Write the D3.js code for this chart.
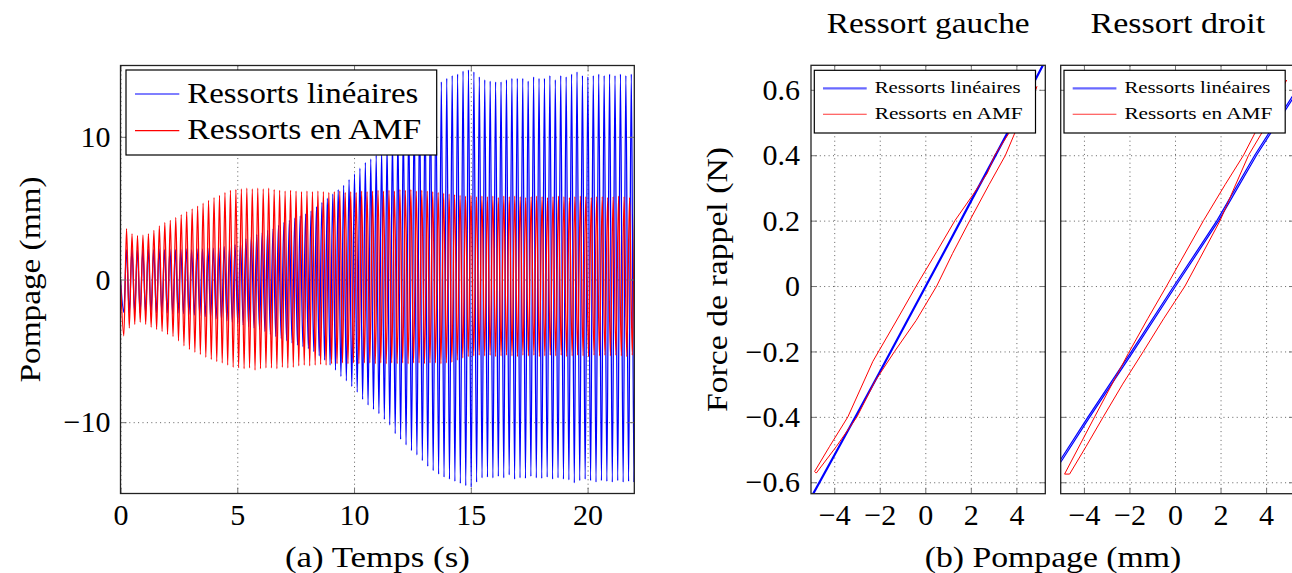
<!DOCTYPE html>
<html><head><meta charset="utf-8">
<script src="https://cdn.jsdelivr.net/npm/d3@7"></script>
<style>
body{margin:0;background:#fff}
svg{display:block}
text{font-family:"Liberation Serif","Times New Roman",serif;fill:#000}
</style>
</head><body>
<svg id="c" width="1292" height="573"></svg>
<script>
// ---------------- DATA ----------------
// (a) time response: successive troughs / crests of each oscillation (mm)
const timeTicks = [0, 5, 10, 15, 20];
const pompageTicks = [-10, 0, 10];
const firstTrough = 0.142;           // s, time of the first trough
const periodLin = 0.2324;            // s, oscillation period (linear springs)
const periodAMF = 0.2341;            // s, oscillation period (SMA springs)
const linMax = [2.1,2.15,2.1,2.1,2.15,2.1,2.15,2.1,2.15,2.1,
 2.15,2.15,2.1,2.15,2.15,2.2,2.2,2.25,2.3,2.35,
 2.45,2.6,2.85,3.0,3.15,3.3,3.45,3.55,3.8,4.0,
 4.15,4.3,4.45,4.6,4.8,5.1,5.4,5.7,6.0,6.3,
 6.6,7.0,7.4,7.8,8.2,8.45,8.7,9.1,9.5,10.0,
 10.5,11.0,11.5,11.9,12.3,12.7,13.1,13.4,13.85,14.1,
 14.3,14.4,14.6,14.7,14.55,14.2,14.0,13.9,13.85,13.85,
 14.0,14.1,14.1,14.1,13.9,14.2,14.1,14.1,14.3,14.0,
 14.3,14.2,14.4,14.55,14.3,14.2,14.3,14.4,14.3,14.4,
 14.3,14.4,14.3,14.4,14.35];
const linMin = [-2.3,-2.35,-2.3,-2.35,-2.3,-2.35,-2.35,-2.3,-2.35,-2.4,
 -2.35,-2.4,-2.45,-2.5,-2.55,-2.6,-2.7,-2.75,-2.85,-2.9,
 -3.0,-3.1,-3.2,-3.3,-3.4,-3.5,-3.65,-3.85,-4.0,-4.15,
 -4.3,-4.45,-4.6,-4.7,-4.85,-5.05,-5.35,-5.65,-6.0,-6.35,
 -6.8,-7.1,-7.5,-7.9,-8.4,-8.8,-9.1,-9.4,-9.8,-10.2,
 -10.8,-11.2,-11.6,-12.0,-12.3,-12.7,-13.1,-13.4,-13.65,-13.85,
 -14.0,-14.15,-14.3,-14.45,-14.55,-14.2,-13.9,-13.85,-13.9,-13.8,
 -13.9,-13.7,-14.0,-13.9,-13.95,-13.8,-13.9,-13.95,-13.85,-14.0,
 -13.9,-14.0,-14.05,-14.25,-14.1,-14.0,-14.1,-14.2,-14.1,-14.15,
 -14.2,-14.1,-14.2,-14.15,-14.2];
const amfMax = [3.57,3.2,3.08,3.1,3.2,3.45,3.75,4.0,4.15,4.35,
 4.55,4.75,4.95,5.15,5.35,5.55,5.75,5.9,6.1,6.25,
 6.3,6.35,6.4,6.35,6.4,6.35,6.4,6.3,6.25,6.2,
 6.25,6.2,6.15,6.2,6.15,6.2,6.15,6.1,6.15,6.2,
 6.1,6.15,6.1,6.2,6.15,6.2,6.25,6.2,6.25,6.2,
 6.3,6.25,6.3,6.2,6.25,6.2,6.15,6.1,6.05,6.0,
 5.95,5.9,5.85,5.9,5.8,5.85,5.8,5.85,5.75,5.85,
 5.8,5.85,5.8,5.75,5.8,5.85,5.8,5.75,5.8,5.85,
 5.8,5.75,5.8,5.85,5.8,5.75,5.8,5.8,5.75,5.8,
 5.85,5.8,5.75,5.8,5.8];
const amfMin = [-3.95,-3.4,-3.15,-3.0,-3.15,-3.35,-3.5,-3.65,-3.85,-4.0,
 -4.3,-4.65,-4.9,-5.1,-5.25,-5.45,-5.6,-5.75,-5.85,-6.0,
 -6.15,-6.2,-6.25,-6.2,-6.35,-6.25,-6.2,-6.2,-6.25,-6.15,
 -6.2,-6.15,-6.05,-6.0,-6.05,-6.0,-5.95,-6.0,-5.9,-5.9,
 -5.85,-5.9,-5.85,-5.9,-5.85,-5.85,-5.9,-5.85,-5.9,-5.85,
 -5.9,-5.85,-5.9,-5.85,-5.85,-5.9,-5.85,-5.85,-5.9,-5.85,
 -5.8,-5.65,-5.5,-5.4,-5.35,-5.3,-5.35,-5.3,-5.4,-5.35,
 -5.3,-5.35,-5.4,-5.3,-5.35,-5.3,-5.4,-5.35,-5.3,-5.35,
 -5.3,-5.4,-5.35,-5.3,-5.35,-5.4,-5.3,-5.35,-5.3,-5.35,
 -5.3,-5.35,-5.4,-5.3,-5.35];

// (b) force vs displacement loops
const pompTicks = [-4, -2, 0, 2, 4];
const forceTicks = [-0.6, -0.4, -0.2, 0, 0.2, 0.4, 0.6];
const gaucheLinX = [-5.05,-4.0,-3.0,-2.0,-1.0,0.0,1.0,2.0,3.0,4.0,5.25,5.3,4.05,3.05,2.05,1.05,0.05,-0.95,-1.95,-2.95,-3.95,-5.0];
const gaucheLinF = [-0.648,-0.515,-0.388,-0.26,-0.13,0.0,0.13,0.262,0.392,0.523,0.69,0.69,0.523,0.392,0.262,0.13,0.0,-0.13,-0.26,-0.388,-0.515,-0.648];
const gaucheAmfX = [-4.86,-4.2,-3.4,-2.3,-1.3,-0.4,0.5,1.3,2.1,2.72,3.05,3.66,4.3,4.9,4.5,3.95,3.52,2.8,1.95,1.2,0.5,-0.4,-1.35,-2.2,-3.0,-3.9,-4.79,-4.86];
const gaucheAmfF = [-0.567,-0.49,-0.4,-0.23,-0.11,0.0,0.105,0.2,0.28,0.345,0.4,0.466,0.54,0.61,0.53,0.471,0.4,0.31,0.2,0.1,0.0,-0.105,-0.2,-0.29,-0.4,-0.49,-0.572,-0.567];
const droitLinX = [-5.3,-5.0,-3.82,-1.91,-0.05,1.84,3.5,5.2,5.6,5.68,5.28,3.58,1.92,0.03,-1.83,-3.74,-4.92,-5.22];
const droitLinF = [-0.56,-0.528,-0.4,-0.2,0.0,0.2,0.4,0.585,0.63,0.63,0.585,0.4,0.2,0.0,-0.2,-0.4,-0.528,-0.56];
const droitAmfX = [-4.85,-3.53,-2.05,-1.2,-0.37,0.27,1.25,2.2,3.01,3.52,4.3,4.9,4.4,3.82,3.23,2.6,1.98,1.05,0.44,-0.5,-1.39,-2.3,-3.15,-3.9,-4.63,-4.85];
const droitAmfF = [-0.575,-0.4,-0.206,-0.1,0.0,0.079,0.2,0.31,0.4,0.469,0.56,0.63,0.56,0.469,0.4,0.3,0.2,0.079,0.0,-0.1,-0.2,-0.3,-0.4,-0.49,-0.575,-0.575];

const seriesNames = ["Ressorts linéaires", "Ressorts en AMF"];
const seriesColors = ["#0000ff", "#ff0000"];

// ---------------- DRAWING ----------------
const svg = d3.select('#c');
const FONT = 30;

function txt(parent, x, y, s, size, anchor, len, rot) {
  const t = parent.append('text')
    .attr('font-size', size)
    .attr('text-anchor', anchor || 'start')
    .text(s);
  if (rot) t.attr('transform', `translate(${x},${y}) rotate(${rot})`);
  else t.attr('x', x).attr('y', y);
  if (len) t.attr('textLength', len).attr('lengthAdjust', 'spacingAndGlyphs');
  return t;
}

let clipId = 0;
function plotFrame(x, y, xt, yt, opt) {
  const g = svg.append('g');
  const [x0, x1] = x.range(), [yb, ytp] = y.range();
  const cid = 'clip' + (clipId++);
  svg.append('clipPath').attr('id', cid).append('rect')
    .attr('x', x0).attr('y', ytp).attr('width', x1 - x0).attr('height', yb - ytp);
  // grid
  const grid = g.append('g');
  grid.append('g').attr('transform', `translate(0,${yb})`)
    .call(d3.axisBottom(x).tickValues(xt).tickSize(-(yb - ytp)).tickFormat(''));
  grid.append('g').attr('transform', `translate(${x0},0)`)
    .call(d3.axisLeft(y).tickValues(yt).tickSize(-(x1 - x0)).tickFormat(''));
  grid.selectAll('.domain').remove();
  grid.selectAll('line').attr('stroke', '#444').attr('stroke-width', 1)
    .attr('stroke-dasharray', '1,3.4').attr('opacity', 0.85);
  const data = g.append('g').attr('clip-path', `url(#${cid})`);
  const top = g.append('g');
  // tick marks inside, all four sides
  const tk = 6;
  top.append('g').attr('transform', `translate(0,${yb})`).call(d3.axisBottom(x).tickValues(xt).tickSize(-tk).tickFormat(''));
  top.append('g').attr('transform', `translate(0,${ytp})`).call(d3.axisTop(x).tickValues(xt).tickSize(-tk).tickFormat(''));
  top.append('g').attr('transform', `translate(${x0},0)`).call(d3.axisLeft(y).tickValues(yt).tickSize(-tk).tickFormat(''));
  top.append('g').attr('transform', `translate(${x1},0)`).call(d3.axisRight(y).tickValues(yt).tickSize(-tk).tickFormat(''));
  top.selectAll('.domain').remove();
  top.selectAll('line').attr('stroke', '#777').attr('stroke-width', 1);
  top.append('rect').attr('x', x0).attr('y', ytp).attr('width', x1 - x0).attr('height', yb - ytp)
    .attr('fill', 'none').attr('stroke', '#222').attr('stroke-width', 1.3);
  // tick labels
  const lab = g.append('g');
  const xa = lab.append('g').attr('transform', `translate(0,${yb})`)
    .call(d3.axisBottom(x).tickValues(xt).tickSize(0).tickFormat(opt.xfmt));
  xa.selectAll('text').attr('y', opt.xBase - yb).attr('dy', null);
  if (opt.yLabels) {
    lab.append('g').attr('transform', `translate(${x0},0)`)
      .call(d3.axisLeft(y).tickValues(yt).tickSize(0).tickPadding(opt.yPad).tickFormat(opt.yfmt));
  }
  lab.selectAll('.domain').remove();
  lab.selectAll('g').attr('font-family', null).attr('font-size', null);
  lab.selectAll('text').attr('font-size', FONT);
  return {g, data, top};
}

function legend(parent, bx, by, bw, bh, size, rows, lineX0, lineX1, textX, lens, widths, cols, opac) {
  parent.append('rect').attr('x', bx).attr('y', by).attr('width', bw).attr('height', bh)
    .attr('fill', '#fff').attr('stroke', '#000').attr('stroke-width', 1.2);
  rows.forEach((r, i) => {
    parent.append('line').attr('x1', lineX0).attr('x2', lineX1).attr('y1', r.ly).attr('y2', r.ly)
      .attr('stroke', cols[i]).attr('stroke-width', widths[i]).attr('opacity', opac[i]);
    txt(parent, textX, r.ty, seriesNames[i], size, 'start', lens[i]);
  });
}

// ---------- (a) time response ----------
const xT = d3.scaleLinear().domain([0, 22]).range([120.5, 634.3]);
const yT = d3.scaleLinear().domain([-15, 15]).range([493.5, 65.5]);
const pa = plotFrame(xT, yT, timeTicks, pompageTicks, {
  xfmt: d3.format('d'), yfmt: d3.format('d'), xBase: 525, yLabels: true, yPad: 10
});
function oscPoints(period, mins, maxs) {
  const pts = [[0, 0]];
  mins.forEach((m, i) => {
    pts.push([firstTrough + i * period, m]);
    pts.push([firstTrough + (i + 0.5) * period, maxs[i]]);
  });
  return pts;
}
const lineT = d3.line().x(d => xT(d[0])).y(d => yT(d[1])).curve(d3.curveMonotoneX);
pa.data.append('path').attr('d', lineT(oscPoints(periodLin, linMin, linMax)))
  .attr('fill', 'none').attr('stroke', seriesColors[0]).attr('stroke-width', 1.3);
pa.data.append('path').attr('d', lineT(oscPoints(periodAMF, amfMin, amfMax)))
  .attr('fill', 'none').attr('stroke', seriesColors[1]).attr('stroke-width', 1.3);
legend(pa.top, 126, 70, 310.7, 85, FONT,
  [{ly: 94, ty: 103.3}, {ly: 130.7, ty: 139.3}], 135, 179.3, 187.3, [231, 234],
  [1.2, 1.2], seriesColors, [1, 1]);
txt(svg, 40, 279.5, 'Pompage (mm)', FONT, 'middle', 206, -90);
txt(svg, 377.4, 566.5, '(a) Temps (s)', FONT, 'middle', 185);

// ---------- (b) force / displacement ----------
const yF = d3.scaleLinear().domain([-0.635, 0.675]).range([493.7, 65.3]);
const fFmt = v => v === 0 ? '0' : d3.format('.1f')(v);
const panels = [
  {x: d3.scaleLinear().domain([-5.02, 5.27]).range([811, 1045.3]), lx: gaucheLinX, lf: gaucheLinF, ax: gaucheAmfX, af: gaucheAmfF, title: 'Ressort gauche', tw: 203, labels: true},
  {x: d3.scaleLinear().domain([-5.02, 5.27]).range([1060.7, 1295]), lx: droitLinX, lf: droitLinF, ax: droitAmfX, af: droitAmfF, title: 'Ressort droit', tw: 174.5, labels: false}
];
panels.forEach(p => {
  const pp = plotFrame(p.x, yF, pompTicks, forceTicks, {
    xfmt: d3.format('d'), yfmt: fFmt, xBase: 525, yLabels: p.labels, yPad: 11
  });
  const ln = d3.line().x(d => p.x(d[0])).y(d => yF(d[1]));
  pp.data.append('path').attr('d', ln(d3.zip(p.lx, p.lf)))
    .attr('fill', 'none').attr('stroke', '#0000ff').attr('stroke-width', 1.2);
  pp.data.append('path').attr('d', ln(d3.zip(p.ax, p.af)))
    .attr('fill', 'none').attr('stroke', '#ff0000').attr('stroke-width', 1);
  const r0 = p.x.range()[0];
  legend(pp.top, r0 + 3.3, 70.3, 221.2, 62.7, 17.5,
    [{ly: 88.3, ty: 92.8}, {ly: 114.3, ty: 118.8}], r0 + 12, r0 + 55.7, r0 + 63.7, [146, 148],
    [2.2, 1.1], ['#4444ff', '#ff2222'], [0.8, 0.9]);
  const cx = (p.x.range()[0] + p.x.range()[1]) / 2;
  txt(svg, cx, 33.3, p.title, FONT, 'middle', p.tw);
});
txt(svg, 727, 279.5, 'Force de rappel (N)', FONT, 'middle', 265, -90);
txt(svg, 1053, 566.5, '(b) Pompage (mm)', FONT, 'middle', 256.5);
</script>
</body></html>
